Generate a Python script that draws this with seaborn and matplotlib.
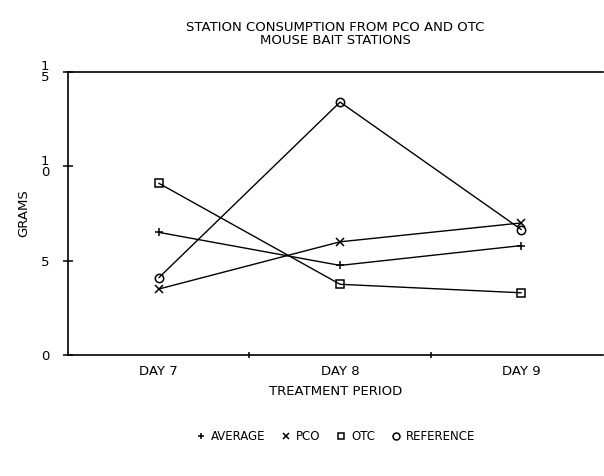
import pandas as pd
import seaborn as sns
import matplotlib.pyplot as plt
from matplotlib.lines import Line2D

sns.set_style("white")
plt.rcParams["font.family"] = ["DejaVu Sans"]
plt.rcParams["text.color"] = "black"
plt.rcParams["axes.labelcolor"] = "black"
plt.rcParams["xtick.color"] = "black"
plt.rcParams["ytick.color"] = "black"

# values
days = ["DAY 7", "DAY 8", "DAY 9"]
average = [6.5, 4.75, 5.8]
pco = [3.5, 6.0, 7.0]
otc = [9.1, 3.75, 3.3]
reference = [4.1, 13.4, 6.65]

series_names = ["AVERAGE", "PCO", "OTC", "REFERENCE"]
y_ticks = [0, 5, 10, 15]
y_tick_labels = ["0", "5", "1\n0", "1\n5"]


def main():
    values = {"AVERAGE": average, "PCO": pco, "OTC": otc, "REFERENCE": reference}
    markers = {"AVERAGE": "+", "PCO": "x", "OTC": "s", "REFERENCE": "o"}

    fig = plt.figure(figsize=(6.04, 4.76), dpi=100)
    ax = fig.add_axes([0.113, 0.254, 0.885, 0.595])

    # seaborn won't mix filled and line-art markers in one call, so one call per series
    for name in series_names:
        df = pd.DataFrame({"pos": range(len(days)), "grams": values[name]})
        sns.lineplot(
            data=df,
            x="pos",
            y="grams",
            color="black",
            marker=markers[name],
            linewidth=1.0,
            markersize=6,
            markerfacecolor="none",
            markeredgecolor="black",
            markeredgewidth=1.1,
            ax=ax,
        )

    ax.set_xlim(-0.5, 2.45)
    ax.set_ylim(0, 15)
    ax.set_xticks(range(len(days)))
    ax.set_xticklabels(days, fontsize=9.5)
    ax.set_xticks([0.5, 1.5], minor=True)
    ax.tick_params(axis="x", which="major", bottom=True, length=0, pad=7)
    ax.tick_params(axis="x", which="minor", bottom=True, length=5,
                   direction="inout", width=1.1)
    ax.set_yticks(y_ticks)
    ax.set_yticklabels(y_tick_labels, fontsize=9.5, linespacing=0.8)
    ax.tick_params(axis="y", left=True, length=7, direction="inout", width=1.1, pad=10)

    for side in ["left", "bottom", "top"]:
        ax.spines[side].set_color("black")
        ax.spines[side].set_linewidth(1.2)
    ax.spines["right"].set_visible(False)

    ax.set_xlabel("TREATMENT PERIOD", fontsize=9.5, labelpad=5)
    ax.set_ylabel("GRAMS", fontsize=9.5, labelpad=8)
    ax.set_title(
        "STATION CONSUMPTION FROM PCO AND OTC\nMOUSE BAIT STATIONS",
        fontsize=9.5,
        linespacing=1.05,
        pad=20,
    )

    handles = [
        Line2D([], [], linestyle="none", marker=markers[s], markersize=5,
               markerfacecolor="none", markeredgecolor="black", markeredgewidth=1.1)
        for s in series_names
    ]
    fig.legend(
        handles,
        series_names,
        loc="center",
        bbox_to_anchor=(0.557, 0.082),
        ncol=4,
        frameon=False,
        fontsize=8.5,
        handlelength=0.5,
        handletextpad=0.6,
        columnspacing=1.5,
    )

    fig.savefig("out.png", dpi=100)


if __name__ == "__main__":
    main()
